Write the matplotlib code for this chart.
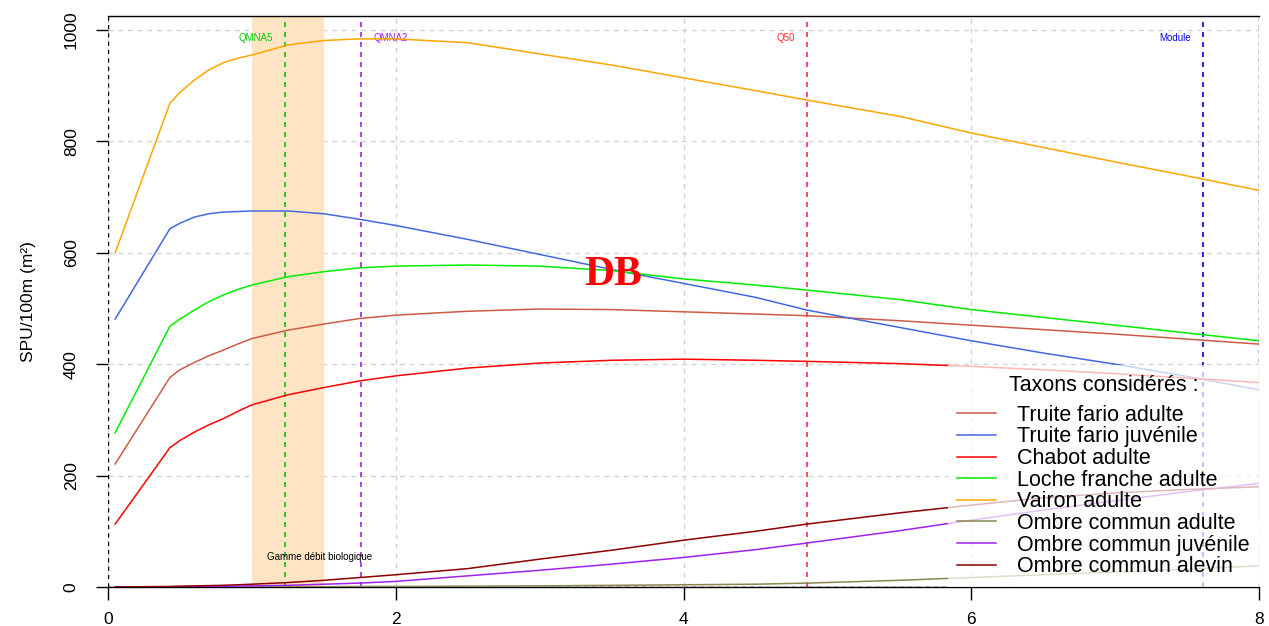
import matplotlib
matplotlib.use("Agg")
import matplotlib.pyplot as plt

plt.rcParams['font.family'] = ['Liberation Sans', 'DejaVu Sans']

# debits (m3/s)
q = [0.05, 0.43, 0.5, 0.6, 0.7, 0.8, 0.9, 1.0, 1.25, 1.5, 1.75, 2.0, 2.5,
     3.0, 3.5, 4.0, 4.5, 4.86, 5.5, 6.0, 6.5, 7.0, 7.5, 8.0]

truite_adulte = [221, 376, 390, 403, 415, 425, 436, 446, 461, 472, 482, 488,
                 495, 499, 498, 494, 490, 487, 478, 470, 462, 454, 445, 436]
truite_juv = [481, 643, 653, 664, 670, 673, 674, 675, 675, 670, 660, 649,
              624, 597, 570, 545, 520, 497, 466, 442, 420, 400, 378, 354]
chabot = [113, 250, 263, 278, 291, 302, 315, 327, 345, 358, 370, 379, 393,
          402, 407, 409, 407, 405, 401, 396, 390, 383, 375, 367]
loche = [277, 468, 481, 497, 512, 524, 534, 542, 557, 566, 573, 576, 578,
         576, 568, 553, 542, 533, 516, 498, 484, 470, 456, 442]
vairon = [600, 868, 888, 910, 928, 941, 949, 955, 973, 981, 984, 984, 977,
          957, 937, 914, 891, 874, 845, 815, 789, 763, 738, 712]
ombre_adulte = [0, 0, 0, 0, 0, 0, 0, 0, 0.5, 0.5, 1, 1, 1.5, 2, 3, 4, 5, 7,
                12, 17, 22, 27, 32, 38]
ombre_juv = [0, 0, 0, 0.5, 1, 1, 1.5, 2, 3, 5, 7, 10, 20, 30, 41, 53, 67, 79,
             101, 120, 138, 155, 171, 186]
ombre_alevin = [0, 1, 1.5, 2, 2.5, 3, 4, 5, 8, 12, 17, 22, 33, 50, 66, 84,
                100, 113, 133, 147, 160, 169, 175, 180]

taxons = ["Truite fario adulte", "Truite fario juvénile", "Chabot adulte",
          "Loche franche adulte", "Vairon adulte", "Ombre commun adulte",
          "Ombre commun juvénile", "Ombre commun alevin"]
series = [truite_adulte, truite_juv, chabot, loche, vairon, ombre_adulte,
          ombre_juv, ombre_alevin]
couleurs = ['#CD5B45', '#4169E1', '#FF0000', '#00EE00', '#FFA500',
            '#8B864E', '#A020F0', '#8B0000']

# debits caracteristiques
debits_ref = {"QMNA5": 1.23, "QMNA2": 1.76, "Q50": 4.86, "Module": 7.61}
couleurs_ref = {"QMNA5": '#00CC00', "QMNA2": '#A020F0', "Q50": '#FF3030',
                "Module": '#0000EE'}
gamme_bio = (1.0, 1.5)

fig = plt.figure(figsize=(12.69, 6.26), dpi=100)
ax = fig.add_axes([108 / 1269, 1 - 587 / 626, 1151 / 1269, 571 / 626])
ax.set_xlim(0, 8)
ax.set_ylim(0, 1025)

# grille
for yv in range(0, 1001, 200):
    ax.axhline(yv, color='#D3D3D3', lw=1, dashes=(3.5, 3.5), zorder=0)
for xv in range(0, 9, 2):
    ax.axvline(xv, color='#D3D3D3', lw=1, dashes=(3.5, 3.5), zorder=0)

ax.axvspan(gamme_bio[0], gamme_bio[1], color='#FFE4C4', lw=0, zorder=1)
ax.text(1.47, 54, "Gamme débit biologique", fontsize=7, ha='center',
        va='center', zorder=5)

for nom, xv in debits_ref.items():
    ax.axvline(xv, color=couleurs_ref[nom], lw=1.2, dashes=(3, 3), zorder=2)
    if nom == "QMNA2":
        ax.annotate(nom, (xv, 985), xytext=(9, 0), textcoords='offset points',
                    fontsize=7, color=couleurs_ref[nom], ha='left', va='center')
    else:
        ax.annotate(nom, (xv, 985), xytext=(-9, 0), textcoords='offset points',
                    fontsize=7, color=couleurs_ref[nom], ha='right',
                    va='center')

ax.axhline(0, color='black', lw=1, dashes=(3, 3), zorder=2)
ax.axvline(0, color='black', lw=1, dashes=(3, 3), zorder=2)
ax.axvline(8, color='black', lw=1, dashes=(3, 3), zorder=2)

for nom, ys, c in zip(taxons, series, couleurs):
    ax.plot(q, ys, color=c, lw=1.1, label=nom, zorder=3)

ax.text(3.51, 560, "DB", fontsize=30, color='red', fontweight='bold',
        family='Liberation Serif', ha='center', va='center', zorder=5)

leg = ax.legend(loc='lower right', bbox_to_anchor=(1, 0), borderaxespad=0,
                title="Taxons considérés :", fontsize=15.5, title_fontsize=15.5,
                handlelength=1.8, handletextpad=0.95, labelspacing=0.03,
                frameon=True, fancybox=False, borderpad=0.45)
leg._legend_box.sep = 6.5  # ecart titre / entrees
leg.get_frame().set_facecolor('white')
leg.get_frame().set_alpha(0.72)
leg.get_frame().set_edgecolor('none')
leg.set_zorder(6)

for s in ['left', 'right']:
    ax.spines[s].set_visible(False)
ax.spines['top'].set_linewidth(1)
ax.spines['bottom'].set_linewidth(1)

ax.set_xticks([0, 2, 4, 6, 8])
ax.set_yticks([0, 200, 400, 600, 800, 1000])
ax.tick_params(axis='both', direction='out', length=9, width=1,
               labelsize=12.5)
ax.tick_params(axis='x', pad=9)
ax.tick_params(axis='y', pad=12)
for lab in ax.get_yticklabels():
    lab.set_rotation(90)
    lab.set_va('center')
ax.set_ylabel("SPU/100m (m²)", fontsize=12.5, labelpad=20)

fig.savefig("out.png", dpi=100)
